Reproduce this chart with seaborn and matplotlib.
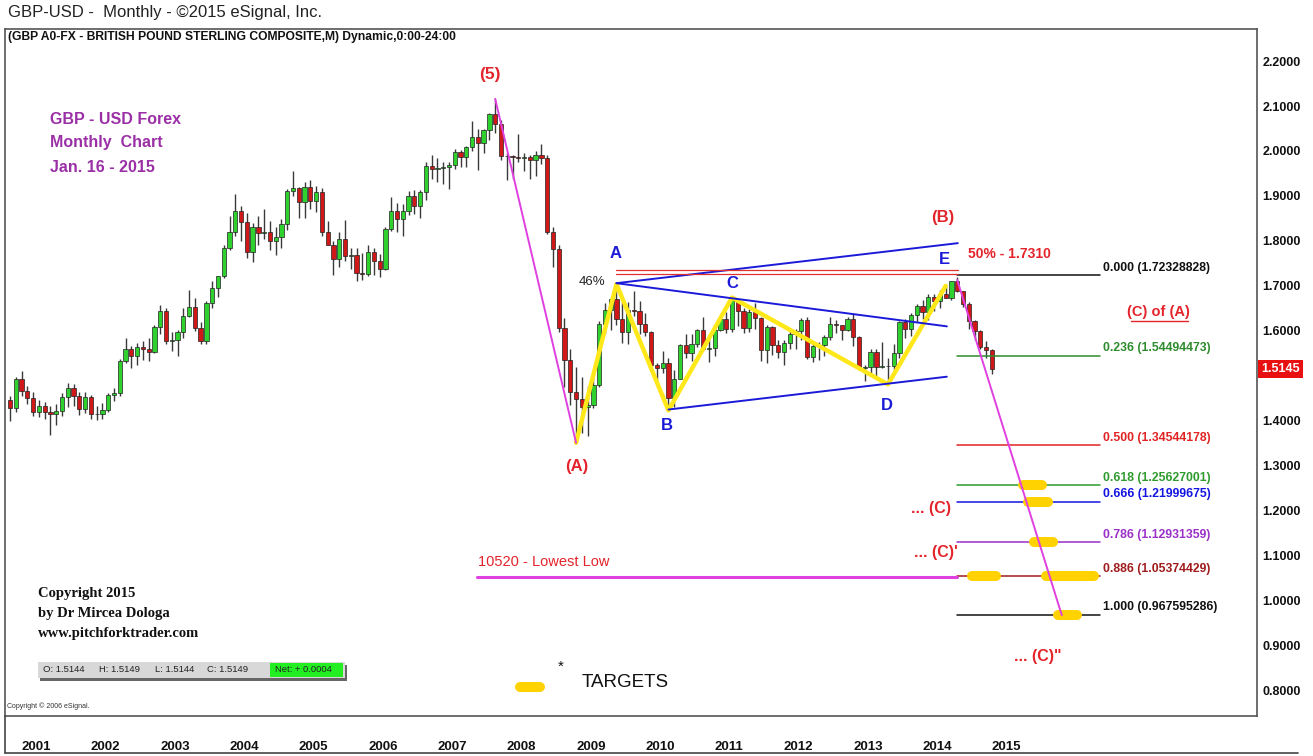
import numpy as np
import pandas as pd
import matplotlib
matplotlib.use("Agg")
import matplotlib.pyplot as plt
import matplotlib.transforms as mtransforms
from matplotlib.lines import Line2D
from matplotlib.patches import Rectangle
import seaborn as sns

# ---------------- data ----------------
first_month = "2000-11"

opens = [
    1.447, 1.428,
    1.493, 1.467, 1.450, 1.419, 1.432, 1.420, 1.414, 1.421, 1.452, 1.473, 1.455, 1.426,
    1.453, 1.414, 1.415, 1.424, 1.457, 1.461, 1.533, 1.560, 1.543, 1.563, 1.560, 1.554,
    1.608, 1.645, 1.577, 1.580, 1.598, 1.633, 1.652, 1.607, 1.578, 1.661, 1.696, 1.721,
    1.785, 1.820, 1.866, 1.842, 1.776, 1.830, 1.818, 1.820, 1.800, 1.808, 1.837, 1.911,
    1.918, 1.886, 1.920, 1.889, 1.908, 1.819, 1.792, 1.760, 1.804, 1.766, 1.769, 1.729,
    1.726, 1.776, 1.755, 1.737, 1.826, 1.867, 1.848, 1.866, 1.901, 1.878, 1.908, 1.967,
    1.960, 1.963, 1.965, 1.968, 1.997, 1.986, 2.008, 2.030, 2.018, 2.047, 2.082, 2.060,
    1.989, 1.988, 1.986, 1.985, 1.987, 1.980, 1.990, 1.984, 1.819, 1.781, 1.607, 1.536,
    1.463, 1.448, 1.431, 1.434, 1.480, 1.616, 1.646, 1.670, 1.627, 1.598, 1.646, 1.645,
    1.615, 1.598, 1.523, 1.518, 1.529, 1.450, 1.494, 1.569, 1.551, 1.571, 1.602, 1.559,
    1.561, 1.602, 1.626, 1.603, 1.669, 1.645, 1.606, 1.642, 1.628, 1.558, 1.608, 1.569,
    1.554, 1.574, 1.592, 1.599, 1.623, 1.542, 1.567, 1.568, 1.587, 1.615, 1.613, 1.602,
    1.626, 1.586, 1.517, 1.519, 1.552, 1.519, 1.521, 1.521, 1.550, 1.619, 1.603, 1.636,
    1.656, 1.643, 1.675, 1.666, 1.682, 1.674, 1.710, 1.688, 1.659, 1.621, 1.600, 1.564,
    1.558,
]
highs = [
    1.455, 1.497,
    1.510, 1.478, 1.465, 1.446, 1.442, 1.432, 1.437, 1.462, 1.484, 1.482, 1.465, 1.465,
    1.457, 1.432, 1.440, 1.462, 1.472, 1.538, 1.583, 1.566, 1.572, 1.578, 1.585, 1.612,
    1.657, 1.650, 1.597, 1.602, 1.650, 1.690, 1.673, 1.619, 1.666, 1.710, 1.723, 1.790,
    1.855, 1.905, 1.878, 1.862, 1.840, 1.855, 1.870, 1.845, 1.830, 1.848, 1.915, 1.955,
    1.920, 1.932, 1.936, 1.922, 1.918, 1.845, 1.800, 1.820, 1.847, 1.785, 1.785, 1.774,
    1.792, 1.785, 1.770, 1.830, 1.898, 1.885, 1.882, 1.910, 1.913, 1.913, 1.975, 1.990,
    1.985, 1.975, 1.975, 2.005, 2.002, 2.012, 2.067, 2.050, 2.050, 2.085, 2.116, 2.070,
    1.996, 1.990, 2.037, 1.996, 1.990, 1.999, 2.016, 1.990, 1.830, 1.790, 1.628, 1.560,
    1.520, 1.498, 1.478, 1.504, 1.622, 1.662, 1.674, 1.704, 1.670, 1.665, 1.688, 1.667,
    1.640, 1.599, 1.528, 1.555, 1.540, 1.514, 1.571, 1.593, 1.592, 1.604, 1.630, 1.590,
    1.610, 1.634, 1.642, 1.674, 1.670, 1.650, 1.648, 1.662, 1.630, 1.612, 1.610, 1.580,
    1.580, 1.600, 1.604, 1.628, 1.630, 1.572, 1.575, 1.590, 1.631, 1.624, 1.614, 1.631,
    1.638, 1.589, 1.525, 1.560, 1.560, 1.575, 1.540, 1.570, 1.622, 1.626, 1.640, 1.659,
    1.668, 1.682, 1.682, 1.690, 1.700, 1.711, 1.719, 1.689, 1.664, 1.624, 1.602, 1.578,
    1.559,
]
lows = [
    1.400, 1.420,
    1.455, 1.438, 1.410, 1.408, 1.404, 1.368, 1.390, 1.410, 1.430, 1.432, 1.412, 1.418,
    1.405, 1.402, 1.405, 1.420, 1.444, 1.455, 1.528, 1.518, 1.525, 1.535, 1.534, 1.550,
    1.593, 1.570, 1.555, 1.545, 1.585, 1.630, 1.600, 1.570, 1.570, 1.650, 1.675, 1.718,
    1.780, 1.810, 1.800, 1.762, 1.752, 1.790, 1.805, 1.779, 1.768, 1.785, 1.825, 1.900,
    1.850, 1.852, 1.870, 1.865, 1.812, 1.790, 1.724, 1.742, 1.755, 1.738, 1.710, 1.713,
    1.722, 1.725, 1.720, 1.735, 1.822, 1.820, 1.812, 1.858, 1.860, 1.852, 1.890, 1.938,
    1.932, 1.926, 1.915, 1.960, 1.965, 1.965, 2.000, 1.958, 1.995, 2.025, 2.040, 1.980,
    1.936, 1.938, 1.975, 1.955, 1.937, 1.945, 1.970, 1.815, 1.743, 1.597, 1.475, 1.435,
    1.351, 1.372, 1.366, 1.429, 1.475, 1.594, 1.602, 1.614, 1.573, 1.571, 1.633, 1.592,
    1.588, 1.518, 1.479, 1.506, 1.423, 1.431, 1.494, 1.540, 1.532, 1.565, 1.555, 1.530,
    1.543, 1.600, 1.595, 1.598, 1.610, 1.595, 1.597, 1.603, 1.534, 1.528, 1.546, 1.540,
    1.523, 1.560, 1.560, 1.580, 1.537, 1.530, 1.535, 1.545, 1.580, 1.595, 1.580, 1.600,
    1.567, 1.513, 1.488, 1.507, 1.500, 1.518, 1.481, 1.513, 1.540, 1.585, 1.588, 1.620,
    1.627, 1.625, 1.645, 1.651, 1.672, 1.669, 1.686, 1.653, 1.605, 1.579, 1.559, 1.539,
    1.504,
]
closes = [
    1.428, 1.493,
    1.467, 1.450, 1.419, 1.432, 1.420, 1.414, 1.421, 1.452, 1.473, 1.455, 1.426, 1.453,
    1.414, 1.415, 1.424, 1.457, 1.461, 1.533, 1.560, 1.543, 1.563, 1.560, 1.554, 1.608,
    1.645, 1.577, 1.580, 1.598, 1.633, 1.652, 1.607, 1.578, 1.661, 1.696, 1.721, 1.785,
    1.820, 1.866, 1.842, 1.776, 1.830, 1.818, 1.820, 1.800, 1.808, 1.837, 1.911, 1.918,
    1.886, 1.920, 1.889, 1.908, 1.819, 1.792, 1.760, 1.804, 1.766, 1.769, 1.729, 1.726,
    1.776, 1.755, 1.737, 1.826, 1.867, 1.848, 1.866, 1.901, 1.878, 1.908, 1.967, 1.960,
    1.963, 1.965, 1.968, 1.997, 1.986, 2.008, 2.030, 2.018, 2.047, 2.082, 2.060, 1.989,
    1.988, 1.986, 1.985, 1.987, 1.980, 1.990, 1.984, 1.819, 1.781, 1.607, 1.536, 1.463,
    1.448, 1.431, 1.434, 1.480, 1.616, 1.646, 1.670, 1.627, 1.598, 1.646, 1.645, 1.615,
    1.598, 1.523, 1.518, 1.529, 1.450, 1.494, 1.569, 1.551, 1.571, 1.602, 1.559, 1.561,
    1.602, 1.626, 1.603, 1.669, 1.645, 1.606, 1.642, 1.628, 1.558, 1.608, 1.569, 1.554,
    1.574, 1.592, 1.599, 1.623, 1.542, 1.567, 1.568, 1.587, 1.615, 1.613, 1.602, 1.626,
    1.586, 1.517, 1.519, 1.552, 1.519, 1.521, 1.521, 1.550, 1.619, 1.603, 1.636, 1.656,
    1.643, 1.675, 1.666, 1.682, 1.674, 1.710, 1.688, 1.659, 1.621, 1.600, 1.564, 1.558,
    1.5145,
]

# Fibonacci projection levels (label, price, colour)
fib_ratios = ["0.000", "0.236", "0.500", "0.618", "0.666", "0.786", "0.886", "1.000"]
fib_prices = [1.72328828, 1.54494473, 1.34544178, 1.25627001, 1.21999675,
              1.12931359, 1.05374429, 0.967595286]
fib_price_txt = ["1.72328828", "1.54494473", "1.34544178", "1.25627001", "1.21999675",
                 "1.12931359", "1.05374429", "0.967595286"]
fib_colors = ["#111111", "#2E8B2E", "#E02424", "#2E9B2E", "#1414E0", "#9A30C8",
              "#A01C1C", "#111111"]

# wave pivots: (A) low, A, B, C, D, E
wave_months = ["2009-01", "2009-08", "2010-05", "2011-04", "2013-07", "2014-05"]
wave_prices = [1.351, 1.704, 1.423, 1.674, 1.481, 1.700]

# yellow target bars: fib level index, start / end month index
target_level = [3, 4, 5, 6, 6, 7]
target_start = [175.4, 176.3, 177.3, 166.6, 179.4, 181.5]
target_end = [178.6, 179.7, 180.5, 170.7, 187.6, 184.7]

lowest_low = 1.0520
half_retrace = 1.7310
last_price = 1.5145

# ---------------- frame ----------------
sns.set_theme(style="white")
FONT = ["Liberation Sans Narrow", "Liberation Sans", "DejaVu Sans"]
plt.rcParams["font.family"] = FONT

W, H = 1313, 756
fig = plt.figure(figsize=(W / 100, H / 100), dpi=100)
fig.patch.set_facecolor("white")
AX_L, AX_R, AX_T, AX_B = 5, 1257, 29, 716
ax = fig.add_axes([AX_L / W, 1 - AX_B / H, (AX_R - AX_L) / W, (AX_B - AX_T) / H])

months = pd.period_range(first_month, periods=len(closes), freq="M")
df = pd.DataFrame({"month": months, "open": opens, "high": highs,
                   "low": lows, "close": closes})
df["pos"] = np.arange(len(df))
pos_of = {str(m): p for m, p in zip(df["month"], df["pos"])}

# candles
up = df["close"] >= df["open"]
body_lo = np.minimum(df["open"], df["close"])
body_h = (df["close"] - df["open"]).abs()
ax.vlines(df["pos"], df["low"], df["high"], color="#3a3a3a", lw=1.0, zorder=2)
ax.bar(df["pos"][up], body_h[up], bottom=body_lo[up], width=0.74,
       color="#2FD12F", edgecolor="#222222", lw=0.5, zorder=3)
ax.bar(df["pos"][~up], body_h[~up], bottom=body_lo[~up], width=0.74,
       color="#D01818", edgecolor="#222222", lw=0.5, zorder=3)

RED = "#E3242B"
BLUE = "#1A1AD8"
MAG = "#E040E0"
YEL = "#FFE81A"
GOLD = "#FFD200"

# elliott wave zig-zag
wx = [pos_of[m] for m in wave_months]
sns.lineplot(x=wx, y=wave_prices, sort=False, color=YEL, lw=3.2, ax=ax, zorder=4)

# triangle / channel lines
pA, pB = pos_of["2009-08"], pos_of["2010-05"]
ax.plot([pA, 164.1], [1.706, 1.795], color=BLUE, lw=1.4, zorder=5)
ax.plot([pA, 162.2], [1.706, 1.610], color=BLUE, lw=1.4, zorder=5)
ax.plot([pB, 162.2], [1.425, 1.498], color=BLUE, lw=1.4, zorder=5)
for dy in (0.0045, -0.0045):
    ax.plot([pA, 164.1], [half_retrace + dy] * 2, color="#E03030", lw=0.9, zorder=5)

# impulse legs
p5, pAl = pos_of["2007-11"], pos_of["2009-01"]
ax.plot([p5, pAl], [df["high"][p5], df["low"][pAl]], color=MAG, lw=1.4, zorder=5)
ax.plot([164.0, 182.1], [1.713, fib_prices[-1]], color=MAG, lw=1.4, zorder=6)
ax.plot([80.9, 164.0], [lowest_low, lowest_low], color=MAG, lw=2.2, zorder=5)

# fib levels
FIB_X0, FIB_X1 = 164.0, 188.7
for r, p, t, c in zip(fib_ratios, fib_prices, fib_price_txt, fib_colors):
    ax.plot([FIB_X0, FIB_X1], [p, p], color=c, lw=1.1, zorder=4)
    ax.text(FIB_X1 + 0.5, p + 0.004, f"{r} ({t})", color=c, fontsize=8.8,
            fontweight="bold", ha="left", va="bottom", zorder=7)

# target bars
for lv, s, e in zip(target_level, target_start, target_end):
    ax.plot([s, e], [fib_prices[lv]] * 2, color=GOLD, lw=7.2,
            solid_capstyle="round", zorder=5)

# wave text labels
ax.text(p5 - 0.9, 2.171, "(5)", color=RED, fontsize=12.5, fontweight="bold",
        ha="center", va="center")
ax.text(pAl + 0.2, 1.298, "(A)", color=RED, fontsize=12, fontweight="bold",
        ha="center", va="center")
ax.text(161.5, 1.853, "(B)", color=RED, fontsize=12, fontweight="bold",
        ha="center", va="center")
for lbl, x, y in zip(["A", "B", "C", "D", "E"],
                     [104.9, 113.7, 125.0, 151.8, 161.7],
                     [1.772, 1.389, 1.706, 1.434, 1.759]):
    ax.text(x, y, lbl, color=BLUE, fontsize=12, fontweight="bold", ha="center", va="center")
ax.text(103.0, 1.708, "46%", color="#222222", fontsize=9.5, ha="right", va="center")
ax.text(165.9, 1.770, "50% - 1.7310", color=RED, fontsize=10, fontweight="bold",
        ha="left", va="center")
ax.text(198.9, 1.643, "(C) of (A)", color=RED, fontsize=10.5, fontweight="bold",
        ha="center", va="center")
ax.plot([194.0, 203.9], [1.621, 1.621], color=RED, lw=1.0)
ax.text(159.5, 1.204, "... (C)", color=RED, fontsize=11.5, fontweight="bold",
        ha="center", va="center")
ax.text(160.3, 1.106, "... (C)'", color=RED, fontsize=11.5, fontweight="bold",
        ha="center", va="center")
ax.text(178.0, 0.875, '... (C)"', color=RED, fontsize=11.5, fontweight="bold",
        ha="center", va="center")
ax.text(81.0, 1.086, "10520 - Lowest Low", color=RED, fontsize=10.5,
        ha="left", va="center")

# targets legend
ax.plot([88.3, 91.7], [0.808, 0.808], color=GOLD, lw=7.2, solid_capstyle="round")
ax.text(95.4, 0.852, "*", color="#111111", fontsize=11, ha="center", va="center")
ax.text(99.0, 0.817, "TARGETS", color="#111111", fontsize=13.5, ha="left", va="center")

# ---------------- furniture in pixel positions ----------------
def af(px, py):
    return ((px - AX_L) / (AX_R - AX_L), (AX_B - py) / (AX_B - AX_T))

PURPLE = "#9A2FA6"
for txt, py in zip(["GBP - USD Forex", "Monthly  Chart", "Jan. 16 - 2015"], [120, 143, 167]):
    ax.text(*af(50, py), txt, transform=ax.transAxes, color=PURPLE, fontsize=11.5,
            fontweight="bold", ha="left", va="center")

SERIF = ["Liberation Serif", "DejaVu Serif"]
for txt, py in zip(["Copyright 2015", "by Dr Mircea Dologa", "www.pitchforktrader.com"],
                   [593, 613, 634]):
    ax.text(*af(38, py), txt, transform=ax.transAxes, family=SERIF, fontsize=10.5,
            fontweight="bold", color="#111111", ha="left", va="center")

ax.text(*af(7, 706), "Copyright © 2006 eSignal.", transform=ax.transAxes,
        fontsize=5, color="#333333", ha="left", va="center")
ax.text(*af(8, 37), "(GBP A0-FX - BRITISH POUND STERLING COMPOSITE,M) Dynamic,0:00-24:00",
        transform=ax.transAxes, fontsize=8.7, fontweight="bold", color="#111111",
        ha="left", va="center")

# OHLC status strip
x0, y0 = af(38, 678)
x1, y1 = af(345, 662)
ax.add_patch(Rectangle((x0 + 0.0016, y0 - 0.004), x1 - x0, y1 - y0, transform=ax.transAxes,
                       facecolor="#666666", edgecolor="none", zorder=8))
ax.add_patch(Rectangle((x0, y0), x1 - x0, y1 - y0, transform=ax.transAxes,
                       facecolor="#D8D8D8", edgecolor="none", zorder=9))
gx0, _ = af(270, 0)
gx1, _ = af(343, 0)
ax.add_patch(Rectangle((gx0, y0 + 0.002), gx1 - gx0, y1 - y0 - 0.004, transform=ax.transAxes,
                       facecolor="#22EE22", edgecolor="none", zorder=10))
for txt, px in zip(["O: 1.5144", "H: 1.5149", "L: 1.5144", "C: 1.5149", "Net: + 0.0004"],
                   [43, 99, 155, 207, 275]):
    ax.text(*af(px, 670), txt, transform=ax.transAxes, fontsize=6.8,
            color="#222222", ha="left", va="center", zorder=11)

# ---------------- axes ----------------
ax.set_xlim(-0.87, 215.9)
ax.set_ylim(0.7434, 2.2713)
yt = np.round(np.arange(0.8, 2.21, 0.1), 1)
ax.yaxis.tick_right()
ax.set_yticks(yt)
# 1.5000 sits under the last-price flag, so it is left blank
ax.set_yticklabels(["" if v == 1.5 else f"{v:.4f}" for v in yt],
                   fontweight="bold", fontsize=9)
jan = df[df["month"].dt.month == 1]
ax.set_xticks(jan["pos"])
ax.set_xticklabels([str(m.year) for m in jan["month"]], fontweight="bold",
                   fontsize=9.5, ha="left")
ax.tick_params(axis="y", length=0, pad=4, colors="#111111")
ax.tick_params(axis="x", length=0, pad=18, colors="#111111")
ax.set_xlabel("")
ax.set_ylabel("")
for s in ax.spines.values():
    s.set_color("#555555")
    s.set_linewidth(1.2)
ax.grid(False)

# last price flag on the price scale
trans = mtransforms.blended_transform_factory(ax.transAxes, ax.transData)
ax.text(1.0 + 4 / (AX_R - AX_L), last_price, "1.5145", transform=trans, color="white",
        fontsize=9, fontweight="bold", ha="left", va="center", clip_on=False, zorder=12,
        bbox=dict(boxstyle="square,pad=0.25", facecolor="#E81010", edgecolor="none"))

# title + outer rule lines
fig.text(8 / W, 1 - 13 / H, "GBP-USD -  Monthly - ©2015 eSignal, Inc.", fontsize=12,
         color="#222222", ha="left", va="center")
fig.add_artist(Line2D([AX_L / W, 1298 / W], [1 - 753 / H] * 2, transform=fig.transFigure,
                      color="#444444", lw=1.2))
fig.add_artist(Line2D([AX_L / W] * 2, [1 - 753 / H, 1 - AX_B / H], transform=fig.transFigure,
                      color="#444444", lw=1.2))

fig.savefig("out.png", dpi=100)
